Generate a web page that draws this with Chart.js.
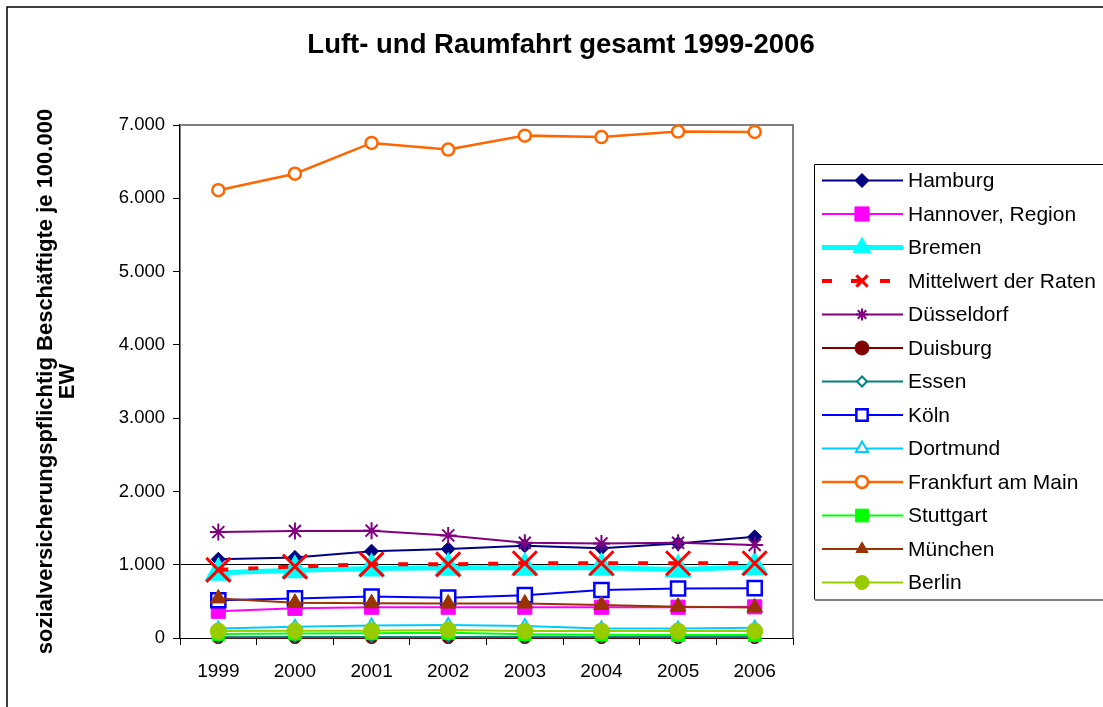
<!DOCTYPE html>
<html>
<head>
<meta charset="utf-8">
<script src="https://cdn.jsdelivr.net/npm/chart.js@4/dist/chart.umd.min.js"></script>
<style>
html,body{margin:0;padding:0;background:#fff;}
#wrap{width:1103px;height:707px;position:relative;}
</style>
</head>
<body>
<div id="wrap"><canvas id="c" width="1103" height="707"></canvas></div>
<script>
// ---- data ----
const chartTitle = 'Luft- und Raumfahrt gesamt 1999-2006';
const years = ['1999','2000','2001','2002','2003','2004','2005','2006'];
const yTicks = [0,1000,2000,3000,4000,5000,6000,7000];
const seriesNames = ['Hamburg','Hannover, Region','Bremen','Mittelwert der Raten','Düsseldorf','Duisburg','Essen','Köln','Dortmund','Frankfurt am Main','Stuttgart','München','Berlin'];
const hamburg    = [1075, 1100, 1185, 1215, 1260, 1225, 1290, 1380];
const hannover   = [365, 405, 420, 420, 420, 420, 420, 425];
const bremen     = [890, 925, 950, 960, 960, 960, 935, 970];
const mittelwert = [930, 975, 1005, 1005, 1020, 1020, 1020, 1020];
const duesseldorf= [1445, 1460, 1465, 1400, 1300, 1290, 1300, 1270];
const duisburg   = [5, 5, 5, 5, 5, 5, 5, 5];
const essen      = [10, 12, 14, 15, 12, 12, 12, 12];
const koeln      = [515, 540, 565, 550, 585, 655, 675, 680];
const dortmund   = [130, 155, 170, 178, 165, 130, 130, 140];
const frankfurt  = [6110, 6335, 6755, 6665, 6855, 6835, 6910, 6905];
const stuttgart  = [55, 60, 65, 70, 50, 45, 40, 40];
const muenchen   = [540, 480, 475, 470, 470, 450, 425, 415];
const berlin     = [95, 100, 100, 110, 95, 95, 95, 95];
const seriesValues = [hamburg, hannover, bremen, mittelwert, duesseldorf, duisburg, essen, koeln, dortmund, frankfurt, stuttgart, muenchen, berlin];

// ---- styles ----
const FONT = '"Liberation Sans", Arial, sans-serif';
const styles = [
  {c:'#000080', w:2, ps:'rectRot', r:7, fill:'#000080', bw:1, lr:7},
  {c:'#FF00FF', w:2, ps:'rect', r:10, fill:'#FF00FF', bw:1, lr:10},
  {c:'#00FFFF', w:5, ps:'triangle', r:12, fill:'#00FFFF', bw:4, lr:7},
  {c:'#FF0000', w:4, ps:'crossRot', r:17, fill:'#FF0000', bw:3, lr:8, dash:[10,20]},
  {c:'#800080', w:2, ps:'star', r:8.5, fill:'#800080', bw:2, lr:6},
  {c:'#800000', w:2, ps:'circle', r:6, fill:'#800000', bw:1, lr:7},
  {c:'#008080', w:2, ps:'rectRot', r:5, fill:'#FFFFFF', bw:2, lr:5},
  {c:'#0000FF', w:2, ps:'rect', r:10, fill:'#FFFFFF', bw:2.5, lr:8},
  {c:'#00CCFF', w:2, ps:'triangle', r:7, fill:'#FFFFFF', bw:2, lr:7},
  {c:'#FF6600', w:2.5, ps:'circle', r:6, fill:'#FFFFFF', bw:2.5, lr:6},
  {c:'#00FF00', w:2, ps:'rect', r:9, fill:'#00FF00', bw:1, lr:9},
  {c:'#993300', w:2, ps:'triangle', r:9, fill:'#993300', bw:1, lr:7},
  {c:'#99CC00', w:2, ps:'circle', r:8, fill:'#99CC00', bw:1, lr:7}
];

const datasets = seriesNames.map((n,i)=>{
  const s = styles[i];
  return {
    label:n, data:seriesValues[i], borderColor:s.c, backgroundColor:s.c,
    borderWidth:s.w, borderDash:s.dash||[], tension:0, fill:false,
    pointStyle:s.ps, pointRadius:s.r, pointHoverRadius:s.r,
    pointBackgroundColor:s.fill, pointBorderColor:s.c, pointBorderWidth:s.bw,
    order:-i, clip:false
  };
});

function fmt(v){ return v.toString().replace(/\B(?=(\d{3})+(?!\d))/g,'.'); }

const framePlugin = {
  id:'frame',
  beforeDraw(chart){
    const ctx = chart.ctx;
    ctx.save();
    ctx.fillStyle='#fff'; ctx.fillRect(0,0,chart.width,chart.height);
    ctx.strokeStyle='#000'; ctx.lineWidth=1.5;
    ctx.beginPath(); ctx.moveTo(7,707); ctx.lineTo(7,7); ctx.lineTo(1103,7); ctx.stroke();
    // title
    ctx.fillStyle='#000'; ctx.font='bold 27.5px '+FONT; ctx.textAlign='center'; ctx.textBaseline='middle';
    ctx.fillText(chartTitle, 561, 45);
    ctx.restore();
  },
  beforeDatasetsDraw(chart){
    const a = chart.chartArea, ctx = chart.ctx;
    ctx.save(); ctx.strokeStyle='#808080'; ctx.lineWidth=2;
    ctx.beginPath(); ctx.moveTo(a.left,a.top); ctx.lineTo(a.right,a.top); ctx.lineTo(a.right,a.bottom); ctx.stroke();
    ctx.restore();
  },
  afterDraw(chart){
    const ctx = chart.ctx;
    ctx.save();
    // legend box
    ctx.strokeStyle='#000'; ctx.lineWidth=1;
    ctx.beginPath(); ctx.moveTo(1110,164.5); ctx.lineTo(814.5,164.5); ctx.lineTo(814.5,599.5); ctx.stroke();
    ctx.strokeStyle='#808080'; ctx.lineWidth=2;
    ctx.beginPath(); ctx.moveTo(815,600); ctx.lineTo(1110,600); ctx.stroke();
    chart.data.datasets.forEach((d,i)=>{
      const s = styles[i];
      const y = 180.5 + i*33.5;
      ctx.save();
      ctx.strokeStyle=s.c; ctx.lineWidth=s.w;
      ctx.setLineDash(s.dash ? [10,19] : []);
      ctx.beginPath(); ctx.moveTo(822,y); ctx.lineTo(903,y); ctx.stroke();
      ctx.setLineDash([]);
      ctx.fillStyle=s.fill; ctx.strokeStyle=s.c; ctx.lineWidth=s.bw;
      Chart.helpers.drawPoint(ctx,{pointStyle:s.ps, radius:s.lr, rotation:0, borderWidth:s.bw}, 862, y);
      ctx.restore();
      ctx.fillStyle='#000'; ctx.font='21px '+FONT; ctx.textBaseline='middle'; ctx.textAlign='left';
      ctx.fillText(d.label, 908, y+1);
    });
    ctx.restore();
  }
};

new Chart(document.getElementById('c'), {
  type:'line',
  data:{labels:years, datasets},
  options:{
    responsive:false, animation:false, events:[],
    layout:{padding:{left:0,right:310,top:125,bottom:0}},
    plugins:{
      legend:{display:false}, tooltip:{enabled:false}, title:{display:false}
    },
    scales:{
      x:{
        offset:true,
        grid:{offset:true, drawOnChartArea:false, tickLength:7, tickColor:'#000', lineWidth:1},
        border:{color:'#000', width:1},
        ticks:{color:'#000', font:{family:FONT, size:19}, padding:15, maxRotation:0},
        afterFit(s){ s.height = 69; }
      },
      y:{
        min:0, max:7000,
        afterBuildTicks(s){ s.ticks = yTicks.map(v=>({value:v})); },
        grid:{color:(c)=> (c.tick && c.tick.value===1000) ? '#000' : 'rgba(0,0,0,0)', tickColor:'#000', tickLength:7, lineWidth:1},
        border:{color:'#000', width:1.5},
        ticks:{color:'#000', font:{family:FONT, size:18.5}, padding:8, callback:(v)=>fmt(v)},
        title:{display:true, text:['sozialversicherungspflichtig Beschäftigte je 100.000','EW'], color:'#000',
          font:{family:FONT, size:22, weight:'bold', lineHeight:1.0}, padding:{top:35,bottom:0}},
        afterFit(s){ s.width = 180; }
      }
    }
  },
  plugins:[framePlugin]
});
</script>
</body>
</html>
